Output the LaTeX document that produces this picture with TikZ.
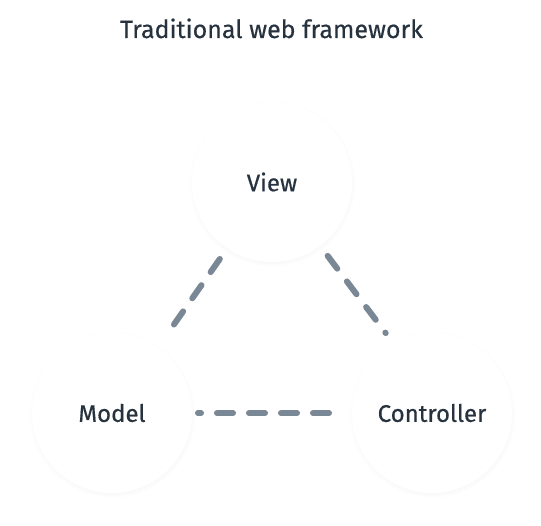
\documentclass[tikz,border=0pt]{standalone}
\usepackage{fontspec}
\setmainfont{Fira Sans}[FakeBold=0.5]
\usetikzlibrary{positioning,shadows}
\definecolor{inkblue}{RGB}{38,50,62}
\definecolor{dashgray}{RGB}{122,135,148}

\begin{document}
\begin{tikzpicture}[x=1pt,y=-1pt,
    main node/.style={circle,fill=white,minimum size=160pt,inner sep=0pt,outer sep=0pt,
      text=inkblue,font=\fontsize{24}{28}\selectfont,
      circular drop shadow={shadow xshift=0pt,shadow yshift=-1.5pt,shadow scale=1.04,opacity=.12}},
    link/.style={draw=dashgray,line width=6pt,line cap=round,dash pattern=on 16pt off 16pt}]

  \useasboundingbox (0,0) rectangle (541,526);
  \node[text=inkblue,font=\fontsize{25}{29}\selectfont,anchor=base] (title) at (271.5,38) {Traditional web framework};
  \node[main node] (view) at (272,182) {View};
  \node[main node] (model) at (112,413) {Model};
  \node[main node] (ctrl) at (432,413) {Controller};

  \path[link]
    (view.-124) edge[shorten <=13pt,shorten >=28pt] (model.55)
    (view.-53) edge[shorten <=12.5pt,shorten >=12.5pt] (ctrl.119)
    (ctrl) edge[shorten <=23pt,shorten >=6pt] (model);
\end{tikzpicture}
\end{document}
